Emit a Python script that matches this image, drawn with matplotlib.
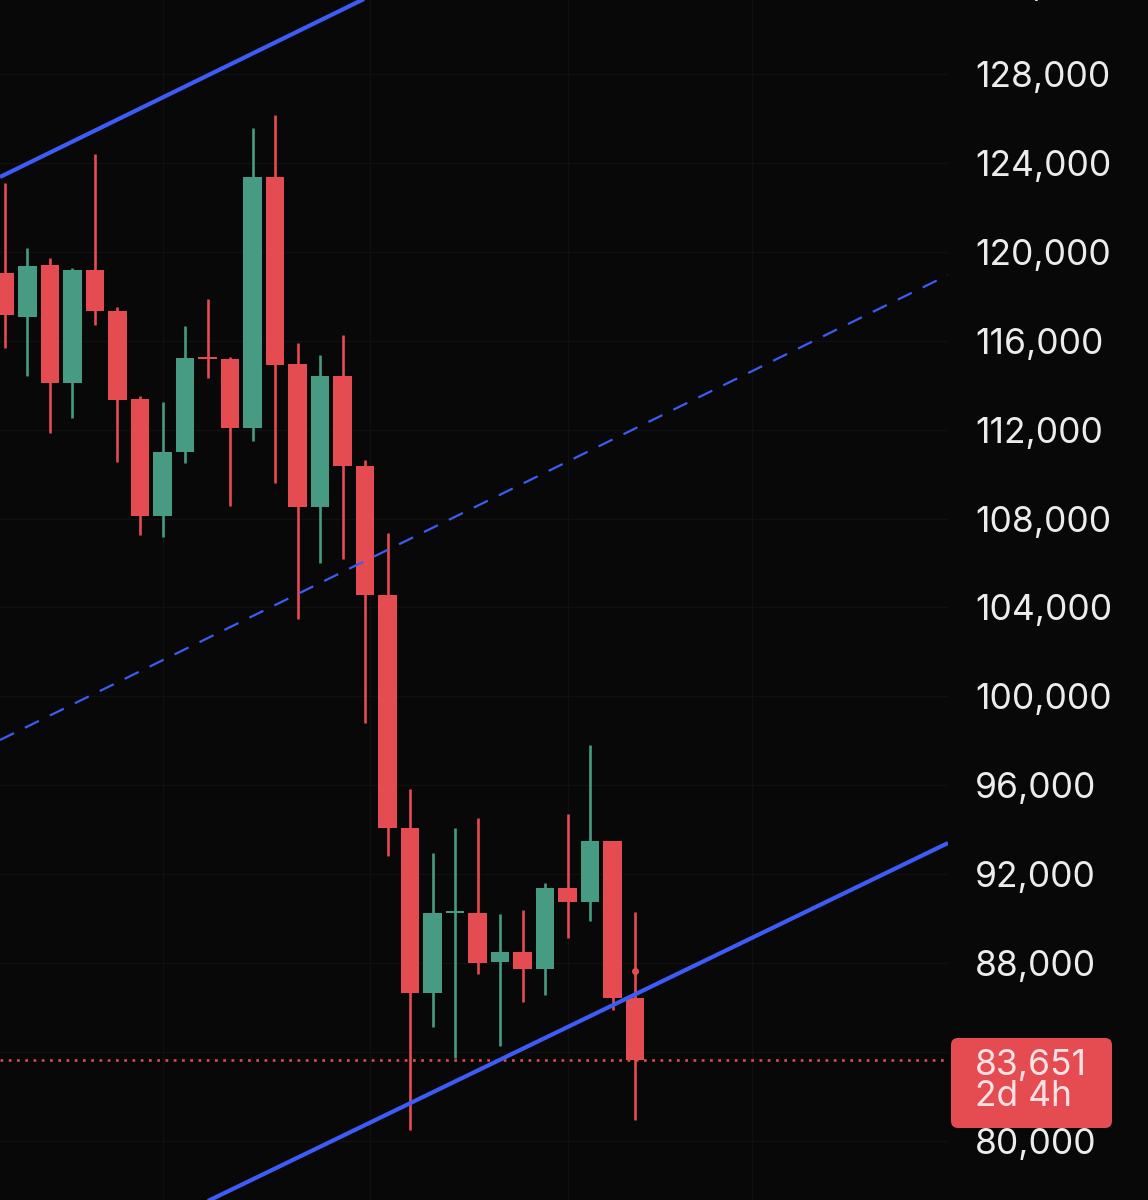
import matplotlib
matplotlib.use("Agg")
import matplotlib.pyplot as plt
from matplotlib.patches import FancyBboxPatch
from matplotlib.ticker import FuncFormatter
import numpy as np

# ---- data ----
opens = [119046, 117066, 119406, 114097, 119181, 117336, 113377, 108113, 110992, 115230,
         115177, 112072, 123366, 114952, 108518, 114412, 110362, 104558, 94075, 86650,
         90250, 90250, 88045, 88495, 87730, 91375, 90745, 93490, 86425]
closes = [117156, 119361, 114097, 119181, 117336, 113332, 108113, 110992, 115222, 115180,
          112072, 123366, 114907, 108518, 114412, 110362, 104558, 94075, 86650, 90250,
          90300, 88000, 88495, 87730, 91375, 90745, 93490, 86425, 83651]
highs = [123096, 120171, 119721, 119250, 124400, 117516, 113512, 113242, 116662, 117876,
         115267, 125570, 126155, 115897, 115357, 116257, 110632, 107348, 95829, 92950,
         94075, 94525, 90205, 90385, 91600, 94704, 97809, 93490, 90295]
lows = [115672, 114412, 111847, 112522, 116707, 110542, 107258, 107168, 110497, 114322,
        108563, 111487, 109597, 103478, 105998, 106178, 98799, 92815, 80486, 85121,
        83726, 87505, 84266, 86246, 86561, 89125, 89890, 85886, 80936]

last_price = 83651
countdown = "2d 4h"
# 84,000 is hidden behind the last-price label in the reference
yticks = [80000] + list(range(88000, 128001, 4000))
grid_levels = list(range(80000, 128001, 4000))
top_partial_tick = 132000

# channel lines: (x0, x1), (y0, y1) in candle-index / price
chan_x = [-0.22, 41.9]
upper_line = [123366, 144225]
mid_line = [98034, 118956]
lower_line = [72765, 93399]
vgrid = [7, 16.2, 25, 33.2]

BG = "#080808"
RED = "#E44C52"
GREEN = "#469B82"
BLUE = "#3D5BF5"
FS = 25.5

fig = plt.figure(figsize=(11.48, 12), dpi=100, facecolor=BG)
ax = fig.add_axes([0, 0, 948 / 1148, 1])
ax.set_facecolor(BG)
ax.set_xlim(-0.22, 41.9)
ax.set_ylim(77336, 131330)

# faint grid
for t in grid_levels:
    ax.axhline(t, color="#101010", lw=1, zorder=0)
for g in vgrid:
    ax.axvline(g, color="#101010", lw=1, zorder=0)

x = np.arange(len(opens))
o = np.array(opens, float)
c = np.array(closes, float)
h = np.array(highs, float)
l = np.array(lows, float)
cols = [GREEN if cc > oo else RED for oo, cc in zip(o, c)]

ax.vlines(x, l, h, colors=cols, lw=1.9, zorder=3)
minh = 90
raw = c - o
small = np.abs(raw) < minh
heights = np.where(small, minh, raw)
bottoms = np.where(small, (o + c) / 2 - minh / 2, o)
ax.bar(x, heights, bottom=bottoms, width=0.83, color=cols, zorder=4, linewidth=0)

# marker dot on last candle wick
ax.plot([x[-1]], [87640], "o", color=RED, ms=4, zorder=5)

# channel
ax.plot(chan_x, upper_line, color=BLUE, lw=3.0, solid_capstyle="butt", zorder=6)
ax.plot(chan_x, lower_line, color=BLUE, lw=3.0, solid_capstyle="butt", zorder=6)
ax.plot(chan_x, mid_line, color=BLUE, lw=1.6, dashes=(7, 5.5), zorder=6)

# last price dotted line
ax.axhline(last_price, color=RED, lw=1.8, dashes=(1.1, 2.2), zorder=2)

# axis styling
for s in ax.spines.values():
    s.set_visible(False)
ax.set_xticks([])
ax.yaxis.tick_right()
ax.set_yticks(yticks)
ax.yaxis.set_major_formatter(FuncFormatter(lambda v, p: f"{int(v):,}"))
ax.tick_params(axis="y", length=0, pad=19.5, labelsize=FS, labelcolor="#ECECEC")
for lab in ax.get_yticklabels():
    lab.set_fontfamily("Inter")

ax.text(975 / 948, top_partial_tick, f"{top_partial_tick:,}", transform=ax.get_yaxis_transform(),
        ha="left", va="center", fontsize=FS, color="#ECECEC",
        family="Inter", clip_on=False)

# price label box
box = FancyBboxPatch((951 / 1148, 1 - 1128 / 1200), 161 / 1148, 90 / 1200,
                     boxstyle="round,pad=0,rounding_size=0.006",
                     transform=fig.transFigure, facecolor=RED, edgecolor="none", zorder=10)
fig.patches.append(box)
fig.text(975 / 1148, 1 - 1081 / 1200, f"{last_price:,}\n{countdown}", ha="left", va="center",
         fontsize=FS, color="#FCE2E4", family="Inter", linespacing=0.92, zorder=11)

fig.savefig("out.png", dpi=100, facecolor=BG)
